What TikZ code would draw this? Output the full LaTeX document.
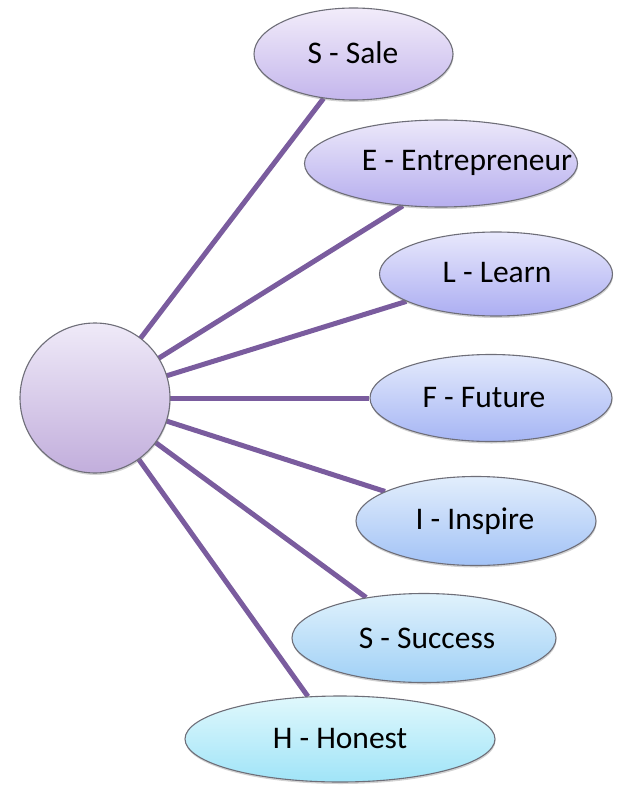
\documentclass[tikz,border=0pt]{standalone}
\usepackage{fontspec}
\setmainfont{Carlito}
\usetikzlibrary{shapes.geometric,shadows,backgrounds}
\definecolor{spoke}{HTML}{7A5C9E}
\definecolor{rim}{HTML}{6E6E78}
\definecolor{hubtop}{HTML}{EFEAF8}
\definecolor{hubbot}{HTML}{C2AEDC}
\tikzset{
  leaf/.style={ellipse, draw=rim, line width=1.1pt, inner sep=0pt,
    drop shadow={shadow xshift=0.5pt, shadow yshift=-2pt, opacity=0.35}},
  leaftext/.style={font=\fontsize{31.5}{36}\selectfont, text=black, inner sep=0pt},
  hubcircle/.style={circle, draw=rim, line width=1.1pt, minimum size=150pt,
    inner sep=0pt, top color=hubtop, bottom color=hubbot,
    drop shadow={shadow xshift=0.5pt, shadow yshift=-2pt, opacity=0.35}},
  spokeline/.style={draw=spoke, line width=5pt}
}
\begin{document}
\begin{tikzpicture}[x=1pt,y=-1pt]
\useasboundingbox (0,0) rectangle (619,786);
% central circle and the seven surrounding ellipses
\node[hubcircle] (hub) at (95,398) {};
\node[leaf, minimum width=199pt, minimum height=92pt,
  top color={rgb,255:red,242;green,236;blue,250}, bottom color={rgb,255:red,196;green,182;blue,236}]
  (sale) at (353.5,54) {};
\node[leaf, minimum width=273pt, minimum height=87pt,
  top color={rgb,255:red,236;green,232;blue,250}, bottom color={rgb,255:red,182;green,174;blue,238}]
  (entre) at (441,163.5) {};
\node[leaf, minimum width=233pt, minimum height=84pt,
  top color={rgb,255:red,232;green,232;blue,252}, bottom color={rgb,255:red,172;green,174;blue,242}]
  (learn) at (496,274) {};
\node[leaf, minimum width=242pt, minimum height=87pt,
  top color={rgb,255:red,228;green,234;blue,252}, bottom color={rgb,255:red,166;green,182;blue,244}]
  (future) at (491,398) {};
\node[leaf, minimum width=240pt, minimum height=89pt,
  top color={rgb,255:red,226;green,238;blue,252}, bottom color={rgb,255:red,162;green,194;blue,246}]
  (inspire) at (476,521) {};
\node[leaf, minimum width=264pt, minimum height=89pt,
  top color={rgb,255:red,224;green,242;blue,252}, bottom color={rgb,255:red,160;green,208;blue,246}]
  (success) at (424,638) {};
\node[leaf, minimum width=310pt, minimum height=86pt,
  top color={rgb,255:red,224;green,248;blue,252}, bottom color={rgb,255:red,160;green,228;blue,248}]
  (honest) at (340,739) {};
% labels inside the ellipses
\node[leaftext] (saletxt)    at (353,53)  {S - Sale};
\node[leaftext] (entretxt)   at (467,163) {E - Entrepreneur};
\node[leaftext] (learntxt)   at (497,273) {L - Learn};
\node[leaftext] (futuretxt)  at (484,398) {F - Future};
\node[leaftext] (inspiretxt) at (475,521) {I - Inspire};
\node[leaftext] (successtxt) at (427,638) {S - Success};
\node[leaftext] (honesttxt)  at (340,739) {H - Honest};
% spokes, drawn behind the shapes
\begin{scope}[on background layer]
  \draw[spokeline] (hub.center) -- (sale.236);
  \draw[spokeline] (hub.center) -- (entre.228);
  \draw[spokeline] (hub.center) -- (learn.197);
  \draw[spokeline] (hub.center) -- (future.180);
  \draw[spokeline] (hub.center) -- (inspire.162);
  \draw[spokeline] (hub.center) -- (success.145);
  \draw[spokeline] (hub.center) -- (honest.127);
\end{scope}
\end{tikzpicture}
\end{document}
